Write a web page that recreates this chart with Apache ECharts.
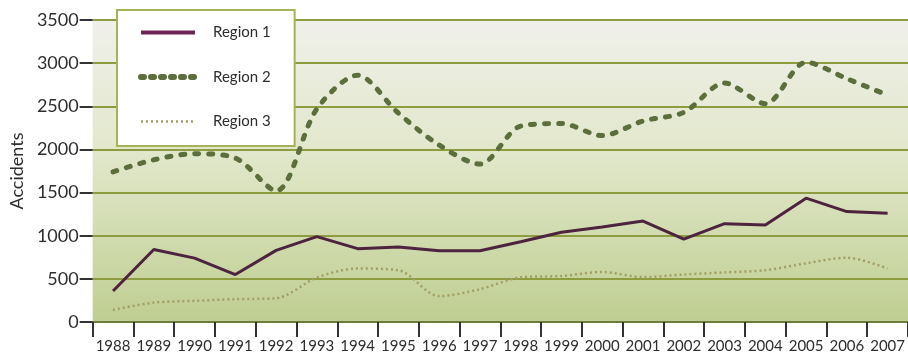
<!DOCTYPE html>
<html>
<head>
<meta charset="utf-8">
<script src="https://cdn.jsdelivr.net/npm/echarts@6/dist/echarts.min.js"></script>
<style>
  html, body { margin: 0; padding: 0; background: #ffffff; }
  #chart { width: 908px; height: 356px; }
</style>
</head>
<body>
<div id="chart"></div>
<script>
// Yearly accident counts per region
const years = ['1988','1989','1990','1991','1992','1993','1994','1995','1996','1997',
               '1998','1999','2000','2001','2002','2003','2004','2005','2006','2007'];
const region1 = [360, 840, 740, 550, 830, 990, 850, 870, 825, 825,
                 930, 1040, 1100, 1170, 960, 1140, 1125, 1435, 1280, 1260];
const region2 = [1740, 1880, 1950, 1900, 1520, 2470, 2860, 2420, 2050, 1830,
                 2270, 2300, 2160, 2330, 2430, 2770, 2530, 3010, 2820, 2630];
const region3 = [140, 225, 245, 265, 275, 515, 620, 600, 300, 380,
                 518, 533, 580, 520, 550, 575, 600, 680, 745, 620];
const yTicks = [0, 500, 1000, 1500, 2000, 2500, 3000, 3500];

const font = 'Lato, "Open Sans", sans-serif';
const textColor = '#2e2e2e';
const chart = echarts.init(document.getElementById('chart'));

chart.setOption({
  animation: false,
  backgroundColor: '#ffffff',
  grid: {
    left: 91, top: 20, width: 826, height: 302,
    show: true,
    borderWidth: 0,
    backgroundColor: {
      type: 'linear', x: 0, y: 0, x2: 0, y2: 1,
      colorStops: [
        { offset: 0, color: '#f0f0ea' },
        { offset: 0.45, color: '#e1e7ca' },
        { offset: 1, color: '#bfce91' }
      ]
    }
  },
  legend: {
    orient: 'vertical',
    left: 117, top: 10,
    backgroundColor: '#ffffff',
    borderColor: '#a5b258',
    borderWidth: 2,
    padding: [15, 24, 17, 21],
    itemWidth: 54,
    itemHeight: 14,
    itemGap: 29.5,
    itemStyle: { opacity: 0 },
    textStyle: { fontFamily: font, fontSize: 15, color: textColor, padding: [0, 0, 0, 13] },
    data: [
      { name: 'Region 1', lineStyle: { width: 4, color: '#6e2452' } },
      { name: 'Region 2', lineStyle: { width: 6, type: [3, 7], cap: 'round', color: '#5b6e3c' } },
      { name: 'Region 3', lineStyle: { width: 2.5, type: [2, 3], color: '#a29e66' } }
    ]
  },
  xAxis: {
    type: 'category',
    data: years,
    boundaryGap: true,
    axisLine: { show: true, lineStyle: { color: '#6f7d3a', width: 2 } },
    axisTick: { show: true, alignWithLabel: false, interval: 0, length: 15, lineStyle: { color: '#333333', width: 2 } },
    axisLabel: { fontFamily: font, fontSize: 15, color: textColor, margin: 17, interval: 0 }
  },
  yAxis: {
    type: 'value',
    min: 0, max: 3500, interval: 500,
    name: 'Accidents',
    nameLocation: 'middle',
    nameRotate: 90,
    nameGap: 55,
    nameTextStyle: { fontFamily: font, fontSize: 18, color: textColor },
    axisLine: { show: false },
    axisTick: { show: true, length: 13, lineStyle: { color: '#333333', width: 2 } },
    axisLabel: {
      fontFamily: font, fontSize: 18, color: textColor, margin: 14,
      formatter: v => (yTicks.includes(v) ? String(v) : '')
    },
    splitLine: { lineStyle: { color: '#8e9c40', width: 2 } }
  },
  series: [
    {
      name: 'Region 1', type: 'line', data: region1,
      symbol: 'none',
      lineStyle: { color: '#4e2340', width: 3 },
      itemStyle: { color: '#6e2452' },
      z: 4
    },
    {
      name: 'Region 2', type: 'line', data: region2,
      symbol: 'none', smooth: 0.3,
      lineStyle: { color: '#5b6e3c', width: 5, type: [4, 10], cap: 'round' },
      itemStyle: { color: '#5b6e3c' },
      z: 3
    },
    {
      name: 'Region 3', type: 'line', data: region3,
      symbol: 'none', smooth: 0.3,
      lineStyle: { color: '#a29e66', width: 2.5, type: [2, 3] },
      itemStyle: { color: '#a29e66' },
      z: 2
    }
  ]
});
</script>
</body>
</html>
